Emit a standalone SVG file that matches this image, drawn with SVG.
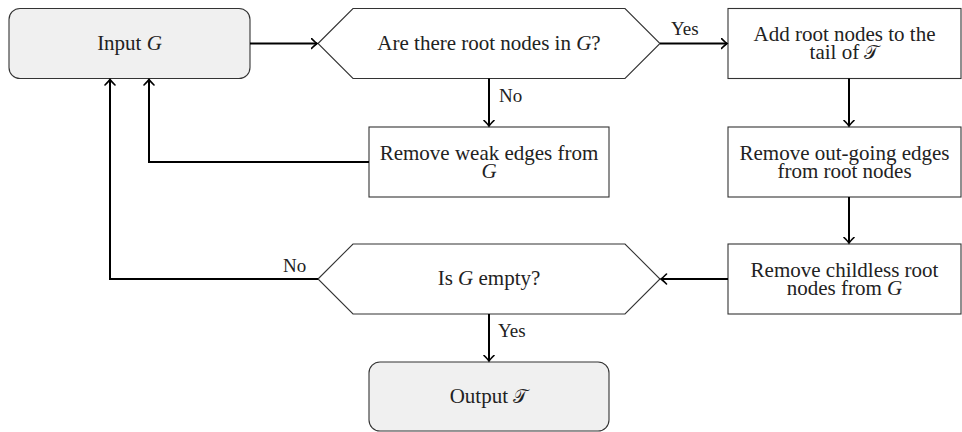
<svg xmlns="http://www.w3.org/2000/svg" width="962" height="432" viewBox="0 0 962 432">
<style>
.node{fill:#fff;stroke:#333;stroke-width:1.1}
.term{fill:#f0f0f0;stroke:#333;stroke-width:1.1}
.t{font-family:"Liberation Serif","DejaVu Serif",serif;font-size:21px;fill:#222;text-anchor:middle}
.lbl{font-family:"Liberation Serif","DejaVu Serif",serif;font-size:19px;fill:#222}
.c{fill:none;stroke:#000;stroke-width:2;marker-end:url(#arr)}
.m{font-family:"DejaVu Serif","DejaVu Sans",serif;font-style:normal;font-size:19px}
</style>
<defs>
<marker id="arr" viewBox="-6 -6 8 12" refX="0.5" refY="0" markerWidth="8" markerHeight="12" markerUnits="userSpaceOnUse" orient="auto">
<path d="M-5,-5 Q-1,-1 0.5,0 Q-1,1 -5,5" fill="none" stroke="#000" stroke-width="1.6" stroke-linecap="round"/>
</marker>
</defs>
<g id="input">
<rect class="term" x="9" y="8.5" width="241" height="70" rx="11"/>
<text class="t" x="129.5" y="50">Input <tspan font-style="italic">G</tspan></text>
</g>
<g id="q1">
<polygon class="node" points="318,43.5 353,8.5 625,8.5 660,43.5 625,78.5 353,78.5"/>
<text class="t" x="489" y="50">Are there root nodes in <tspan font-style="italic">G</tspan>?</text>
</g>
<g id="addroot">
<rect class="node" x="728" y="8.5" width="233" height="70"/>
<text class="t" x="844.5" y="41">Add root nodes to the</text>
<text class="t" x="844.5" y="59">tail of <tspan class="m">𝒯</tspan></text>
</g>
<g id="removeweak">
<rect class="node" x="369" y="127" width="240" height="70"/>
<text class="t" x="489" y="159.5">Remove weak edges from</text>
<text class="t" x="489" y="177.5" font-style="italic">G</text>
</g>
<g id="removeout">
<rect class="node" x="728" y="127" width="233" height="70"/>
<text class="t" x="844.5" y="159.5">Remove out-going edges</text>
<text class="t" x="844.5" y="177.5">from root nodes</text>
</g>
<g id="removechildless">
<rect class="node" x="728" y="244" width="233" height="70"/>
<text class="t" x="844.5" y="276.5">Remove childless root</text>
<text class="t" x="844.5" y="294.5">nodes from <tspan font-style="italic">G</tspan></text>
</g>
<g id="q2">
<polygon class="node" points="318,279 353,244 625,244 660,279 625,314 353,314"/>
<text class="t" x="489" y="285">Is <tspan font-style="italic">G</tspan> empty?</text>
</g>
<g id="output">
<rect class="term" x="369" y="362" width="240" height="69" rx="11"/>
<text class="t" x="489" y="403">Output <tspan class="m">𝒯</tspan></text>
</g>
<g id="connectors">
<path class="c" d="M250,43.5 H317"/>
<path class="c" d="M660,43.5 H727"/>
<path class="c" d="M489,78.5 V126"/>
<path class="c" d="M849,78.5 V126"/>
<path class="c" d="M849,197 V243"/>
<path class="c" d="M728,279 H661"/>
<path class="c" d="M369,162 H149 V79.5"/>
<path class="c" d="M318,279 H110 V79.5"/>
<path class="c" d="M489,314 V361"/>
<text class="lbl" x="671" y="35">Yes</text>
<text class="lbl" x="499" y="102">No</text>
<text class="lbl" x="283" y="272">No</text>
<text class="lbl" x="498" y="337">Yes</text>
</g>
</svg>
